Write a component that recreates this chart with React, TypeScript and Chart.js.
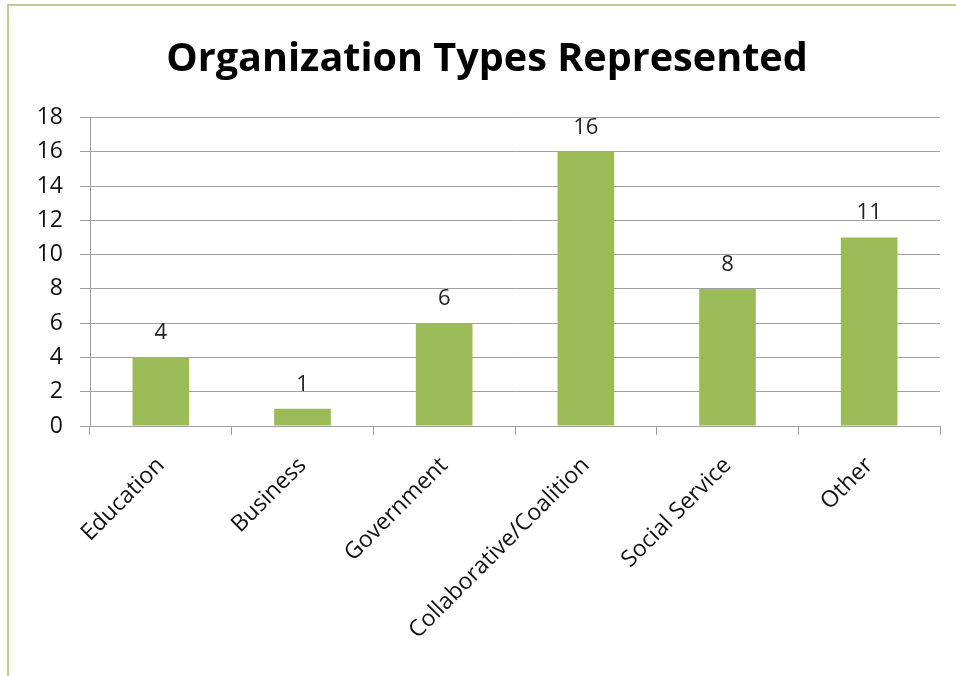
import React, { useEffect, useRef } from "react";
import { Chart, registerables } from "chart.js";

Chart.register(...registerables);

const categories = ["Education", "Business", "Government", "Collaborative/Coalition", "Social Service", "Other"];
const counts = [4, 1, 6, 16, 8, 11];
const yTicks = [0, 2, 4, 6, 8, 10, 12, 14, 16, 18];
const chartTitle = "Organization Types Represented";

const FONT = "'Open Sans', 'Noto Sans', sans-serif";

const valueLabels = {
  id: "valueLabels",
  afterDatasetsDraw(chart: any) {
    const ctx = chart.ctx;
    const meta = chart.getDatasetMeta(0);
    ctx.save();
    ctx.font = `22px ${FONT}`;
    ctx.fillStyle = "#222";
    ctx.textAlign = "center";
    ctx.textBaseline = "alphabetic";
    meta.data.forEach((bar: any, i: number) => {
      ctx.fillText(String(chart.data.datasets[0].data[i]), bar.x, bar.y - 18);
    });
    ctx.restore();
  },
};

export default function App() {
  const ref = useRef<HTMLCanvasElement>(null);
  useEffect(() => {
    document.body.style.margin = "0";
    const chart = new Chart(ref.current!, {
      type: "bar",
      data: {
        labels: categories,
        datasets: [
          {
            data: counts,
            backgroundColor: "#9bbb59",
            barPercentage: 0.4,
            categoryPercentage: 1,
          },
        ],
      },
      options: {
        animation: false,
        responsive: false,
        layout: { padding: { left: 34, right: 16, top: 0, bottom: 0 } },
        plugins: {
          legend: { display: false },
          tooltip: { enabled: false },
          title: {
            display: true,
            text: chartTitle,
            color: "#000",
            font: { family: FONT, size: 39.6, weight: "bold", lineHeight: 1.2 },
            padding: { top: 36, bottom: 34 },
          },
        },
        scales: {
          x: {
            offset: true,
            grid: { offset: true, drawOnChartArea: false, drawTicks: true, tickLength: 9, color: "#a0a0a0" },
            border: { color: "#a0a0a0" },
            ticks: {
              color: "#111",
              font: { family: FONT, size: 23 },
              minRotation: 45,
              maxRotation: 45,
              autoSkip: false,
              padding: 17,
            },
            afterFit(s: any) {
              s.height = 250;
            },
          },
          y: {
            min: 0,
            max: 18,
            afterBuildTicks(s: any) {
              s.ticks = yTicks.map((v) => ({ value: v }));
            },
            grid: { color: "#a0a0a0", tickLength: 10 },
            border: { color: "#a0a0a0" },
            ticks: {
              color: "#111",
              font: { family: FONT, size: 23 },
              padding: 17,
            },
            afterFit(s: any) {
              s.width = 56;
            },
          },
        },
      },
      plugins: [valueLabels],
    });
    return () => chart.destroy();
  }, []);
  return (
    <div style={{ position: "relative", width: 956, height: 676, background: "#fff", overflow: "hidden" }}>
      <div
        style={{
          position: "absolute",
          left: 7,
          top: 4,
          width: 1000,
          height: 1000,
          borderTop: "2px solid #b9d08e",
          borderLeft: "2px solid #b9d08e",
        }}
      />
      <canvas ref={ref} width={956} height={676} style={{ position: "absolute", left: 0, top: 0 }} />
    </div>
  );
}
